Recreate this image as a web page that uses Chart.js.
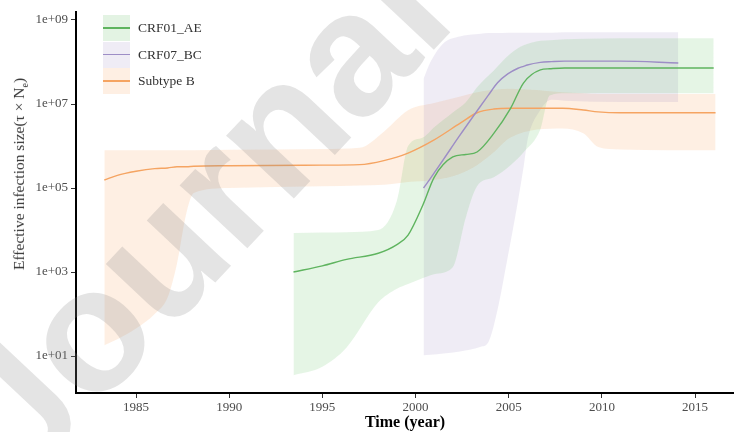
<!DOCTYPE html>
<html>
<head>
<meta charset="utf-8">
<script src="https://cdn.jsdelivr.net/npm/chart.js@4.4.1/dist/chart.umd.min.js"></script>
<style>
  body { margin: 0; background: #fff; }
  #wrap { position: relative; width: 734px; height: 432px; overflow: hidden; }
  #ytitle {
    position: absolute; left: 20px; top: 174px;
    transform: translate(-50%, -50%) rotate(-90deg);
    font: 15.5px "Liberation Serif", serif; color: #333; white-space: nowrap;
  }
  #legend { position: absolute; left: 103px; top: 15px; font: 13.5px "Liberation Serif", serif; color: #333; }
  .row { position: relative; height: 26.5px; }
  .key { position: absolute; left: 0; top: 0; width: 27px; height: 26px; }
  .key i { position: absolute; left: 0; right: 0; top: 12px; height: 1.5px; }
  .row span { position: absolute; left: 35px; top: 5px; white-space: nowrap; }
  #mark { position: absolute; left: 0; top: 0; pointer-events: none; }
  #mark text { font-family: "Liberation Sans", Arial, sans-serif; font-weight: bold; font-size: 175px; fill: rgba(140,140,140,0.23); }
</style>
</head>
<body>
<div id="wrap">
  <canvas id="chart" width="734" height="432"></canvas>
  <div id="ytitle">Effective infection size(τ × N<sub style="font-size:10px">e</sub>)</div>
  <div id="legend"></div>
  <svg id="mark" width="734" height="432">
    <text transform="translate(26,484) rotate(-46.8)">Journal</text>
  </svg>
</div>
<script>
// CRF01_AE
const aeYears = [1993.45, 1995, 1996.3, 1998, 1999, 1999.6, 2000.4, 2001, 2002, 2002.7, 2003.3, 2004.2, 2005.1, 2005.8, 2006.7, 2007.2, 2008, 2012, 2016];
const aeMid  = [1.0e3, 1.4e3, 2.0e3, 2.8e3, 4.5e3, 7.6e3, 4.0e4, 1.8e5, 5.5e5, 6.3e5, 7.2e5, 2.0e6, 7.9e6, 3.2e7, 6.5e7, 6.9e7, 7.2e7, 7.2e7, 7.2e7];
const aeLow  = [3.5, 5.6, 16, 190, 400, 520, 720, 890, 1.3e3, 2.0e4, 1.1e5, 1.8e5, 3.5e5, 7.1e5, 2.5e6, 1.6e7, 1.8e7, 1.8e7, 1.8e7];
const aeHigh = [8.5e3, 8.7e3, 8.9e3, 1.0e4, 5.0e4, 1.0e6, 1.6e6, 2.8e6, 6.3e6, 1.1e7, 2.5e7, 6.3e7, 1.6e8, 2.5e8, 3.2e8, 3.3e8, 3.5e8, 3.7e8, 3.7e8];

// CRF07_BC
const bcYears = [2000.43, 2000.8, 2001.5, 2002.3, 2003.5, 2003.9, 2004.4, 2004.95, 2005.5, 2005.8, 2006.0, 2006.7, 2007.3, 2008, 2011, 2014.1];
const bcMid  = [1.0e5, 1.7e5, 4.8e5, 1.6e6, 9.1e6, 1.6e7, 3.2e7, 5.2e7, 7.1e7, 7.9e7, 8.5e7, 9.8e7, 1.02e8, 1.05e8, 1.05e8, 9.5e7];
const bcLow  = [10.5, 10.7, 11.5, 12.6, 16.6, 21, 126, 2.3e3, 5.0e4, 3.2e5, 1.3e6, 7.2e6, 1.26e7, 1.2e7, 1.12e7, 1.12e7];
const bcHigh = [4.0e7, 1.0e8, 2.8e8, 4.0e8, 4.7e8, 4.9e8, 4.9e8, 5.0e8, 5.0e8, 5.0e8, 5.0e8, 5.0e8, 5.0e8, 5.1e8, 5.1e8, 5.1e8];

// Subtype B
const bYears = [1983.3, 1984, 1985, 1986, 1986.7, 1987.2, 1987.7, 1988.1, 1990, 1995, 1997, 1998.3, 1999.6, 2001, 2002.4, 2003.3, 2004.2, 2005.1, 2007.9, 2009, 2009.8, 2011, 2016.1];
const bMid  = [1.55e5, 2.0e5, 2.5e5, 2.9e5, 3.0e5, 3.2e5, 3.2e5, 3.3e5, 3.4e5, 3.5e5, 3.6e5, 4.5e5, 6.8e5, 1.4e6, 3.5e6, 6.2e6, 7.6e6, 7.9e6, 7.9e6, 7.2e6, 6.5e6, 6.2e6, 6.2e6];
const bLow  = [18, 25, 45, 100, 250, 1.6e3, 2.5e4, 7.6e4, 1.0e5, 1.1e5, 1.15e5, 1.2e5, 1.4e5, 1.55e5, 2.2e5, 3.5e5, 7.1e5, 1.6e6, 2.6e6, 2.0e6, 9.5e5, 8.3e5, 7.9e5];
const bHigh = [7.9e5, 7.9e5, 7.9e5, 7.9e5, 7.9e5, 7.9e5, 7.9e5, 7.9e5, 8.1e5, 8.5e5, 9.1e5, 2.2e6, 7.1e6, 1.05e7, 1.5e7, 1.9e7, 2.2e7, 2.3e7, 1.9e7, 1.8e7, 1.74e7, 1.74e7, 1.74e7];

const xTicks = [1985, 1990, 1995, 2000, 2005, 2010, 2015];
const yTicks = [1e1, 1e3, 1e5, 1e7, 1e9];

const series = [
  { name: 'CRF01_AE', years: aeYears, mid: aeMid, low: aeLow, high: aeHigh, line: '#5fb45f', band: 'rgba(80,190,80,0.15)', key: '#e3f3e3' },
  { name: 'CRF07_BC', years: bcYears, mid: bcMid, low: bcLow, high: bcHigh, line: '#9d8dc6', band: 'rgba(130,110,180,0.13)', key: '#efecf5' },
  { name: 'Subtype B', years: bYears, mid: bMid, low: bLow, high: bHigh, line: '#f5a462', band: 'rgba(250,160,90,0.17)', key: '#feefe3' }
];

const pts = (xs, ys) => xs.map((x, i) => ({ x: x, y: ys[i] }));

const datasets = [];
series.forEach(s => {
  datasets.push({ label: s.name + ' low', data: pts(s.years, s.low), borderWidth: 0, pointRadius: 0, fill: false, cubicInterpolationMode: 'monotone' });
  datasets.push({ label: s.name + ' high', data: pts(s.years, s.high), borderWidth: 0, pointRadius: 0, fill: '-1', backgroundColor: s.band, cubicInterpolationMode: 'monotone' });
  datasets.push({ label: s.name, data: pts(s.years, s.mid), borderColor: s.line, borderWidth: 1.4, pointRadius: 0, fill: false, cubicInterpolationMode: 'monotone' });
});

const tickFont = { family: '"Liberation Serif", serif', size: 13 };

new Chart(document.getElementById('chart'), {
  type: 'line',
  data: { datasets: datasets },
  options: {
    responsive: false,
    animation: false,
    devicePixelRatio: 1,
    layout: { padding: { top: 12, right: 0, left: 0, bottom: 0 } },
    plugins: {
      legend: { display: false },
      tooltip: { enabled: false },
      filler: { drawTime: 'beforeDatasetsDraw' }
    },
    scales: {
      x: {
        type: 'linear',
        min: 1981.78,
        max: 2017.09,
        afterBuildTicks: axis => { axis.ticks = xTicks.map(v => ({ value: v })); },
        afterFit: scale => { scale.height = 39; },
        ticks: { font: tickFont, color: '#4d4d4d', padding: 2, callback: v => String(v) },
        grid: { drawOnChartArea: false, tickLength: 5, color: '#333', tickWidth: 1 },
        border: { color: '#000', width: 2 },
        title: { display: true, text: 'Time (year)', color: '#000', font: { family: '"Liberation Serif", serif', size: 16, weight: 'bold' }, padding: { top: 0, bottom: 0 } }
      },
      y: {
        type: 'logarithmic',
        min: 1.32,
        max: 1.55e9,
        afterBuildTicks: axis => { axis.ticks = yTicks.map(v => ({ value: v })); },
        afterFit: scale => { scale.width = 76; },
        ticks: {
          font: tickFont, color: '#4d4d4d', padding: 3,
          callback: v => '1e+' + String(Math.round(Math.log10(v))).padStart(2, '0')
        },
        grid: { drawOnChartArea: false, tickLength: 5, color: '#333', tickWidth: 1 },
        border: { color: '#000', width: 2 }
      }
    }
  }
});

// legend
const legend = document.getElementById('legend');
series.forEach(s => {
  const row = document.createElement('div');
  row.className = 'row';
  row.innerHTML = '<div class="key" style="background:' + s.key + '"><i style="background:' + s.line + '"></i></div><span>' + s.name + '</span>';
  legend.appendChild(row);
});
</script>
</body>
</html>
